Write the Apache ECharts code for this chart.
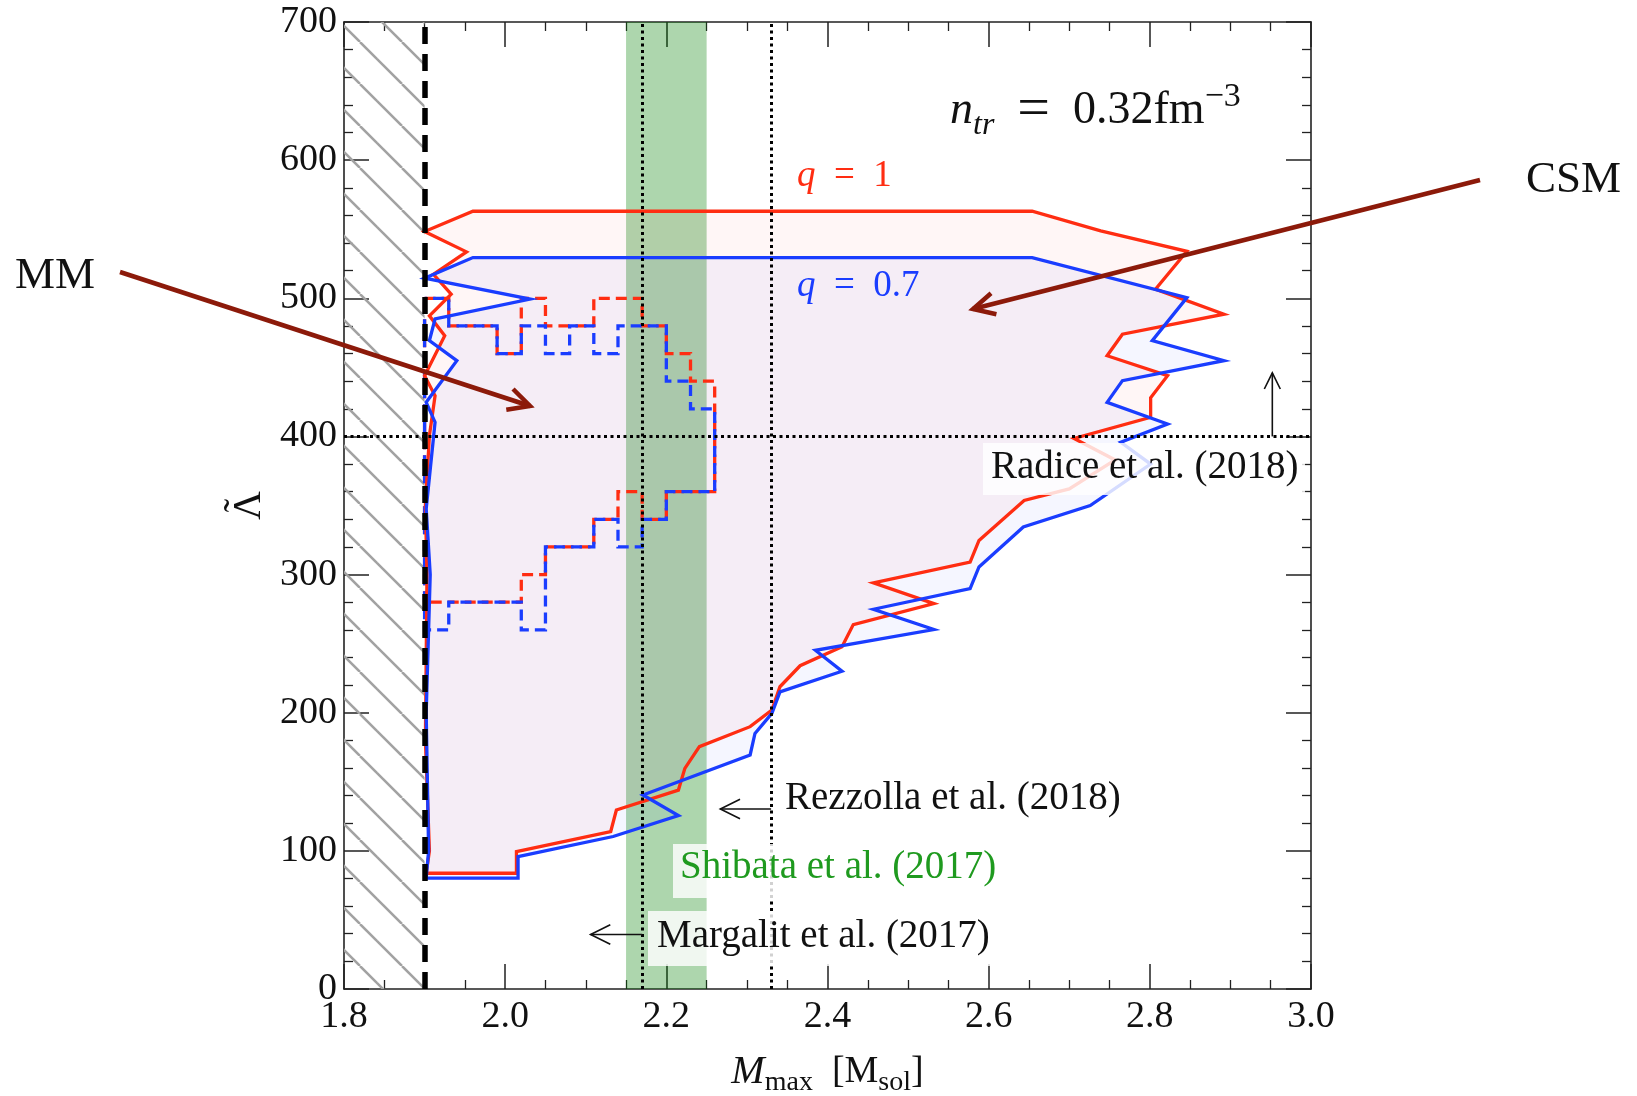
<!DOCTYPE html>
<html>
<head>
<meta charset="utf-8">
<script src="https://cdn.jsdelivr.net/npm/echarts@6/dist/echarts.min.js"></script>
<style>
  html, body { margin: 0; padding: 0; background: #fff; }
  #chart { width: 1637px; height: 1096px; }
</style>
</head>
<body>
<div id="chart"></div>
<script>
// CSM outline for q = 1 (closed contour, M_max vs tidal deformability)
const csmQ1M = [1.902, 1.906, 1.901, 1.903, 1.901, 1.906, 1.913, 1.900, 1.925, 1.906,
                1.933, 1.911, 1.952, 1.900, 1.960, 2.654, 2.739, 2.846, 2.807, 2.892,
                2.766, 2.747, 2.822, 2.801, 2.801, 2.706, 2.757, 2.700, 2.644, 2.588,
                2.577, 2.457, 2.532, 2.432, 2.418, 2.366, 2.341, 2.331, 2.304, 2.241,
                2.223, 2.215, 2.138, 2.131, 2.014, 2.014];
const csmQ1Lam = [83.8, 100, 180, 300, 350, 400.6, 429.5, 444, 472.9, 487.3,
                  503, 517.4, 533.6, 548.3, 563, 563, 548.8, 534, 506.6, 488.5,
                  474, 458.4, 444, 428, 413.9, 398.5, 383, 362, 353.6, 324.7,
                  309, 294, 279, 263.8, 247.7, 234, 218.8, 201.9, 189.9, 175.4,
                  159.7, 144, 129.6, 114, 99.5, 83.8];

// CSM outline for q = 0.7
const csmQ07M = [1.902, 1.905, 1.902, 1.907, 1.902, 1.913, 1.902, 1.940, 1.906, 1.913,
                 2.031, 1.900, 1.960, 2.654, 2.846, 2.803, 2.892, 2.766, 2.747, 2.822,
                 2.764, 2.801, 2.726, 2.643, 2.588, 2.577, 2.457, 2.532, 2.385, 2.418,
                 2.341, 2.331, 2.310, 2.304, 2.171, 2.215, 2.134, 2.016, 2.016];
const csmQ07Lam = [80.2, 100, 200, 300, 347.6, 410.3, 424.7, 454.8, 469.3, 485,
                   499.4, 514.6, 529.5, 529.5, 500.5, 469.3, 454.8, 440.4, 424.7, 409,
                   395.8, 380, 350, 334.4, 305.5, 289.8, 274.9, 260.2, 245.2, 230,
                   215.1, 199.5, 185, 169.4, 140.4, 125.5, 110.4, 95.9, 80.2];

// MM model: binned range of tidal deformability per M_max bin
const mmBinEdges = [1.90, 1.93, 1.96, 1.99, 2.02, 2.05, 2.08, 2.11, 2.14, 2.17, 2.20, 2.23, 2.26];
const mmQ1Upper  = [500, 480, 480, 460, 500, 480, 480, 500, 500, 480, 460, 440];
const mmQ1Lower  = [280, 280, 280, 280, 300, 320, 320, 340, 360, 340, 360, 360];
const mmQ07Upper = [500, 480, 480, 460, 480, 460, 480, 460, 480, 480, 440, 420];
const mmQ07Lower = [260, 280, 280, 280, 260, 320, 320, 340, 320, 340, 360, 360];

// Constraints
const mMinObserved = 1.9;           // lower mass bound (hatched region below)
const hatchRange = [1.8, 1.9];
const shibataBand = [2.15, 2.25];
const mMaxBounds = [2.17, 2.33];    // Margalit / Rezzolla upper bounds
const lambdaBound = [400];          // Radice lower bound

const FONT = 'Liberation Serif';
const RED = '#ff2d12';
const BLUE = '#1a3dff';
const DARKRED = '#8c1a0a';

function hatchPattern() {
  const s = 42;
  const c = document.createElement('canvas');
  c.width = s; c.height = s;
  const g = c.getContext('2d');
  g.strokeStyle = '#a2a2a2';
  g.lineWidth = 2.5;
  for (const k of [-s - 18, -18, s - 18]) {
    g.beginPath(); g.moveTo(k, 0); g.lineTo(k + s, s); g.stroke();
  }
  return c;
}

function pairs(ms, ls) { return ms.map((m, i) => [m, ls[i]]); }
function closed(pts) { return pts.concat([pts[0]]); }

function stepOutline(edges, upper, lower) {
  const pts = [];
  for (let i = 0; i < upper.length; i++) {
    pts.push([edges[i], upper[i]], [edges[i + 1], upper[i]]);
  }
  for (let i = lower.length - 1; i >= 0; i--) {
    pts.push([edges[i + 1], lower[i]], [edges[i], lower[i]]);
  }
  pts.push(pts[0]);
  return pts;
}

function fillSeries(name, pts, color) {
  return {
    type: 'custom', name, z: 2, silent: true,
    coordinateSystem: 'cartesian2d',
    data: pts,
    encode: { x: 0, y: 1 },
    renderItem: (params, api) => {
      if (params.dataIndex !== 0) return null;
      return {
        type: 'polygon',
        shape: { points: pts.map(p => api.coord(p)) },
        style: { fill: color, stroke: null }
      };
    }
  };
}

function outlineSeries(name, pts, color, dash, offset, z) {
  return {
    type: 'line', name, z, silent: true,
    data: pts, showSymbol: false, symbol: 'none',
    lineStyle: { color, width: 3.3, type: dash || 'solid', dashOffset: offset || 0, join: 'miter' },
    animation: false
  };
}

const q1Pts = pairs(csmQ1M, csmQ1Lam);
const q07Pts = pairs(csmQ07M, csmQ07Lam);

const tickColor = '#222';
const axisCommon = {
  type: 'value',
  axisLine: { onZero: false, lineStyle: { color: tickColor, width: 1.6 } },
  axisTick: { inside: true, length: 25, lineStyle: { color: tickColor, width: 1.5 } },
  minorTick: { show: true, length: 9, lineStyle: { color: tickColor, width: 1.3 } },
  splitLine: { show: false },
  minorSplitLine: { show: false }
};

const chart = echarts.init(document.getElementById('chart'), null, { renderer: 'canvas' });

const option = {
  animation: false,
  grid: { left: 344, top: 22, width: 967, height: 967, containLabel: false, outerBoundsMode: 'none' },
  xAxis: [
    Object.assign({}, axisCommon, {
      min: 1.8, max: 3.0, interval: 0.2, position: 'bottom',
      minorTick: Object.assign({}, axisCommon.minorTick, { splitNumber: 4 }),
      axisLabel: { fontFamily: FONT, fontSize: 38, color: '#111', margin: 9,
                   formatter: v => v.toFixed(1) },
      name: '{m|M}{s|max}{r|  [M}{s|sol}{r|]}',
      nameLocation: 'middle', nameGap: 58,
      nameTextStyle: {
        fontFamily: FONT, color: '#111',
        rich: {
          m: { fontFamily: FONT, fontSize: 40, fontStyle: 'italic', lineHeight: 50, color: '#111' },
          r: { fontFamily: FONT, fontSize: 38, lineHeight: 50, color: '#111' },
          s: { fontFamily: FONT, fontSize: 28, lineHeight: 32, verticalAlign: 'bottom', color: '#111' }
        }
      }
    }),
    Object.assign({}, axisCommon, {
      min: 1.8, max: 3.0, interval: 0.2, position: 'top',
      minorTick: Object.assign({}, axisCommon.minorTick, { splitNumber: 4 }),
      axisLabel: { show: false }
    })
  ],
  yAxis: [
    Object.assign({}, axisCommon, {
      min: 0, max: 700, interval: 100, position: 'left',
      minorTick: Object.assign({}, axisCommon.minorTick, { splitNumber: 5 }),
      axisLabel: { fontFamily: FONT, fontSize: 38, color: '#111', margin: 7 },
      name: '{t|\u02DC}\n{l|Λ}', nameLocation: 'middle', nameGap: 68, nameRotate: 90,
      nameTextStyle: {
        fontFamily: FONT, fontSize: 40, color: '#111', align: 'center',
        rich: {
          t: { fontFamily: FONT, fontSize: 40, lineHeight: 2, color: '#111', align: 'center' },
          l: { fontFamily: FONT, fontSize: 40, lineHeight: 16, color: '#111', align: 'center' }
        }
      }
    }),
    Object.assign({}, axisCommon, {
      min: 0, max: 700, interval: 100, position: 'right',
      minorTick: Object.assign({}, axisCommon.minorTick, { splitNumber: 5 }),
      axisLabel: { show: false }
    })
  ],
  series: [
    {
      // shaded constraint regions
      type: 'line', name: 'bands', z: 1, silent: true,
      data: [[1.8, 0]], showSymbol: false, symbol: 'none',
      lineStyle: { opacity: 0 },
      markArea: {
        silent: true,
        label: { show: false },
        data: [
          [{ xAxis: hatchRange[0], yAxis: 0, itemStyle: { color: { image: hatchPattern(), repeat: 'repeat' } } },
           { xAxis: hatchRange[1], yAxis: 700 }],
          [{ xAxis: shibataBand[0], yAxis: 0, itemStyle: { color: 'rgba(0,128,0,0.32)' } },
           { xAxis: shibataBand[1], yAxis: 700 }]
        ]
      }
    },
    fillSeries('CSM q=1 fill', q1Pts, 'rgba(255,30,30,0.038)'),
    fillSeries('CSM q=0.7 fill', q07Pts, 'rgba(30,50,255,0.042)'),
    outlineSeries('MM q=1', stepOutline(mmBinEdges, mmQ1Upper, mmQ1Lower), RED, [11, 6], 0, 3),
    outlineSeries('MM q=0.7', stepOutline(mmBinEdges, mmQ07Upper, mmQ07Lower), BLUE, [11, 6], 8.5, 3),
    outlineSeries('CSM q=1', closed(q1Pts), RED, 'solid', 0, 4),
    outlineSeries('CSM q=0.7', closed(q07Pts), BLUE, 'solid', 0, 4),
    {
      // reference bounds
      type: 'line', name: 'bounds', z: 5, silent: true,
      data: [[1.8, 0]], showSymbol: false, symbol: 'none',
      lineStyle: { opacity: 0 },
      markLine: {
        silent: true, symbol: ['none', 'none'],
        label: { show: false },
        lineStyle: { color: '#000', width: 3, type: [3, 3.5] },
        data: mMaxBounds.map(v => ({ xAxis: v }))
          .concat(lambdaBound.map(v => ({ yAxis: v })))
          .concat([{ xAxis: mMinObserved, lineStyle: { color: '#000', width: 5.5, type: [17, 10] } }])
      }
    }
  ]
};

chart.setOption(option);

// ---- annotations ----
const toPx = p => chart.convertToPixel({ xAxisIndex: 0, yAxisIndex: 0 }, p);

function arrow(tail, tip, len, ang, color, width) {
  const a = Math.atan2(tail[1] - tip[1], tail[0] - tip[0]);
  const h1 = [tip[0] + len * Math.cos(a + ang), tip[1] + len * Math.sin(a + ang)];
  const h2 = [tip[0] + len * Math.cos(a - ang), tip[1] + len * Math.sin(a - ang)];
  return [
    { type: 'polyline', z: 100, silent: true, shape: { points: [tail, tip] },
      style: { stroke: color, lineWidth: width, fill: null } },
    { type: 'polyline', z: 100, silent: true, shape: { points: [h1, tip, h2] },
      style: { stroke: color, lineWidth: width, fill: null, lineJoin: 'miter' } }
  ];
}

function label(text, x, baseline, size, color) {
  return {
    type: 'text', z: 102, silent: true, x, y: baseline - 0.34 * size,
    style: { text, fill: color, font: size + 'px "' + FONT + '"',
             align: 'left', verticalAlign: 'middle', textAlign: 'left', textVerticalAlign: 'middle' }
  };
}

function box(x, y, w, h) {
  return { type: 'rect', z: 101, silent: true, shape: { x, y, width: w, height: h },
           style: { fill: 'rgba(255,255,255,0.82)', stroke: null } };
}

const graphics = [];
// thin pointer arrows attached to the bounds
graphics.push(...arrow(toPx([2.952, 400]), toPx([2.952, 446]), 18, 0.46, '#111', 1.6));
graphics.push(...arrow(toPx([mMaxBounds[1], 130.3]), toPx([2.267, 130.3]), 22, 0.46, '#111', 1.6));
graphics.push(...arrow(toPx([mMaxBounds[0], 39.5]), toPx([2.106, 39.5]), 22, 0.46, '#111', 1.6));

graphics.push(box(983, 443, 322, 52));
graphics.push(label('Radice et al. (2018)', 991, 481, 39, '#111'));
graphics.push(label('Rezzolla et al. (2018)', 785, 812, 39, '#111'));
graphics.push(box(673, 844, 338, 54));
graphics.push(label('Shibata et al. (2017)', 680, 881, 39, '#1f9a1f'));
graphics.push(box(648, 911, 355, 55));
graphics.push(label('Margalit et al. (2017)', 657, 950, 39, '#111'));

// model labels
graphics.push({
  type: 'text', z: 102, silent: true, x: 797, y: 189 - 0.34 * 37,
  style: { text: '{i|q}{r|\u2002=\u20021}', verticalAlign: 'middle', align: 'left',
           rich: { i: { fontFamily: FONT, fontSize: 37, fontStyle: 'italic', fill: RED },
                   r: { fontFamily: FONT, fontSize: 37, fill: RED } } }
});
graphics.push({
  type: 'text', z: 102, silent: true, x: 797, y: 299 - 0.34 * 37,
  style: { text: '{i|q}{r|\u2002=\u20020.7}', verticalAlign: 'middle', align: 'left',
           rich: { i: { fontFamily: FONT, fontSize: 37, fontStyle: 'italic', fill: BLUE },
                   r: { fontFamily: FONT, fontSize: 37, fill: BLUE } } }
});
graphics.push({
  type: 'text', z: 102, silent: true, x: 950, y: 111,
  style: { text: '{n|n}{sub|tr}{r|\u2002}{eq|=}{r|\u20020.32fm}{sup|\u22123}', verticalAlign: 'middle', align: 'left',
           rich: {
             n: { fontFamily: FONT, fontSize: 46, fontStyle: 'italic', lineHeight: 62, fill: '#111' },
             sub: { fontFamily: FONT, fontSize: 32, fontStyle: 'italic', lineHeight: 46, verticalAlign: 'bottom', fill: '#111' },
             r: { fontFamily: FONT, fontSize: 46, lineHeight: 62, fill: '#111' },
             eq: { fontFamily: FONT, fontSize: 58, lineHeight: 62, fill: '#111' },
             sup: { fontFamily: FONT, fontSize: 34, lineHeight: 28, verticalAlign: 'top', fill: '#111' }
           } }
});

graphics.push(label('MM', 15, 291, 45, '#111'));
graphics.push(label('CSM', 1526, 195, 45, '#111'));
graphics.push(...arrow([120, 272], [530, 406], 24, 0.47, DARKRED, 4.5));
graphics.push(...arrow([1480, 180], [973, 309], 24, 0.47, DARKRED, 4.5));

chart.setOption({ graphic: { elements: graphics } });
</script>
</body>
</html>
